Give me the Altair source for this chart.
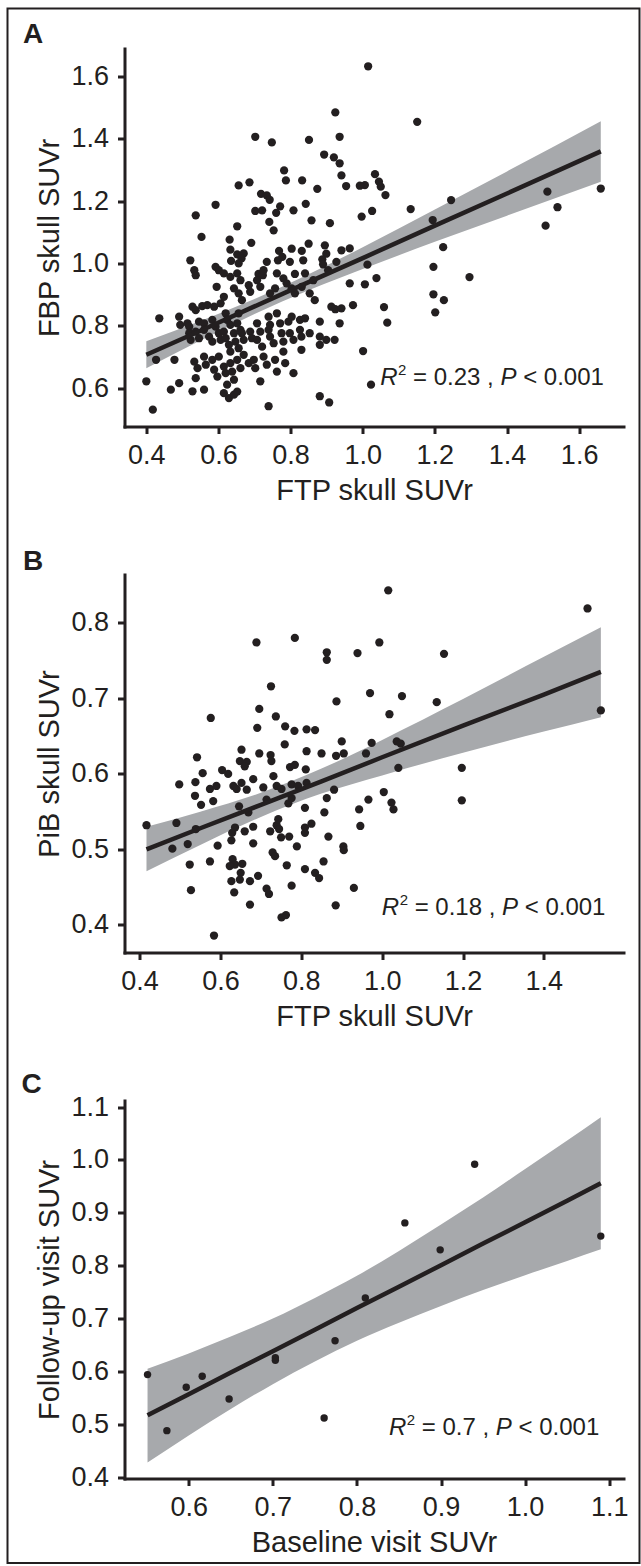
import altair as alt
import pandas as pd

INK = "#231f20"
BAND = "#a7a9ac"
FONT = "Liberation Sans"

# ---------------- Panel A : FTP vs FBP skull SUVr ----------------
a_x = [0.924, 0.702, 0.748, 0.851, 0.936, 0.893, 0.920, 0.936, 0.782, 0.787,
       0.832, 0.941, 0.954, 0.656, 0.686, 0.874, 0.718, 0.734, 0.742, 0.592,
       0.842, 0.702, 0.721, 0.771, 0.760, 0.808, 0.537, 0.858, 0.909, 0.741,
       0.753, 0.652, 0.553, 0.631, 0.691, 0.850, 0.895, 0.899, 0.768, 0.803,
       0.831, 0.633, 0.652, 0.670, 0.941, 0.964, 0.522, 0.533, 0.537, 0.592,
       0.601, 0.635, 0.664, 0.656, 0.734, 0.765, 0.777, 0.798, 0.835, 0.888,
       0.890, 0.927, 0.615, 0.633, 0.652, 0.661, 0.711, 0.723, 0.725, 0.762,
       0.780, 0.812, 0.840, 0.863, 0.904, 0.964, 0.595, 0.615, 0.643, 0.656,
       0.665, 0.684, 0.688, 0.707, 0.716, 0.743, 0.757, 0.789, 0.803, 0.812,
       0.831, 0.853, 0.867, 0.913, 0.924, 0.941, 0.973, 0.528, 0.537, 0.555,
       0.569, 0.588, 0.606, 0.436, 0.491, 0.494, 0.514, 0.519, 0.546, 0.560,
       0.583, 0.592, 0.620, 0.624, 0.633, 0.656, 0.652, 0.661, 0.707, 0.716,
       0.739, 0.743, 0.762, 0.771, 0.794, 0.803, 0.826, 0.840, 0.881, 0.936,
       0.519, 0.523, 0.537, 0.546, 0.560, 0.574, 0.583, 0.601, 0.606, 0.615,
       0.620, 0.629, 0.633, 0.643, 0.647, 0.656, 0.665, 0.670, 0.688, 0.693,
       0.707, 0.721, 0.739, 0.743, 0.753, 0.775, 0.780, 0.798, 0.808, 0.826,
       0.830, 0.853, 0.881, 0.899, 0.922, 0.881, 0.427, 0.478, 0.533, 0.542,
       0.560, 0.565, 0.583, 0.588, 0.597, 0.601, 0.615, 0.620, 0.633, 0.638,
       0.643, 0.652, 0.661, 0.670, 0.684, 0.698, 0.702, 0.725, 0.734, 0.757,
       0.762, 0.780, 0.785, 0.808, 0.830, 0.400, 0.468, 0.491, 0.528, 0.537,
       0.560, 0.615, 0.629, 0.643, 0.652, 0.624, 0.716, 0.739, 0.881, 0.907,
       0.418, 1.015, 1.151, 1.034, 1.006, 0.992, 1.045, 1.050, 1.063, 1.026,
       0.997, 1.133, 1.245, 1.194, 1.512, 1.540, 1.507, 1.660, 1.223, 1.196,
       1.013, 1.038, 1.006, 1.296, 1.196, 1.225, 1.201, 1.059, 1.068, 1.001,
       1.023]
a_y = [1.484, 1.406, 1.388, 1.396, 1.406, 1.349, 1.340, 1.321, 1.298, 1.266,
       1.266, 1.282, 1.248, 1.250, 1.260, 1.239, 1.223, 1.218, 1.204, 1.188,
       1.191, 1.168, 1.170, 1.183, 1.162, 1.170, 1.154, 1.138, 1.129, 1.133,
       1.106, 1.119, 1.085, 1.076, 1.066, 1.063, 1.058, 1.031, 1.040, 1.047,
       1.040, 1.044, 1.029, 1.032, 1.042, 1.048, 1.010, 0.978, 0.962, 0.989,
       0.978, 1.008, 1.016, 1.000, 1.005, 1.010, 1.021, 1.005, 1.010, 1.013,
       0.997, 1.005, 0.968, 0.957, 0.968, 0.946, 0.966, 0.962, 0.978, 0.968,
       0.952, 0.966, 0.968, 0.946, 0.978, 0.936, 0.925, 0.893, 0.920, 0.904,
       0.882, 0.930, 0.909, 0.946, 0.925, 0.904, 0.920, 0.936, 0.920, 0.904,
       0.925, 0.904, 0.882, 0.861, 0.853, 0.856, 0.866, 0.861, 0.850, 0.863,
       0.866, 0.861, 0.872, 0.824, 0.829, 0.803, 0.808, 0.797, 0.813, 0.808,
       0.819, 0.797, 0.840, 0.819, 0.803, 0.840, 0.808, 0.787, 0.808, 0.781,
       0.829, 0.803, 0.840, 0.808, 0.813, 0.829, 0.819, 0.824, 0.813, 0.808,
       0.776, 0.755, 0.781, 0.760, 0.787, 0.765, 0.749, 0.776, 0.755, 0.781,
       0.760, 0.739, 0.717, 0.776, 0.749, 0.728, 0.776, 0.755, 0.781, 0.760,
       0.755, 0.733, 0.787, 0.765, 0.744, 0.776, 0.749, 0.776, 0.755, 0.787,
       0.765, 0.776, 0.765, 0.755, 0.755, 0.739, 0.691, 0.691, 0.685, 0.664,
       0.701, 0.675, 0.691, 0.659, 0.637, 0.701, 0.669, 0.648, 0.680, 0.653,
       0.627, 0.691, 0.664, 0.707, 0.680, 0.691, 0.664, 0.701, 0.675, 0.691,
       0.653, 0.717, 0.680, 0.648, 0.723, 0.622, 0.595, 0.616, 0.590, 0.632,
       0.595, 0.584, 0.568, 0.579, 0.589, 0.611, 0.622, 0.542, 0.574, 0.554,
       0.531, 1.632, 1.454, 1.286, 1.251, 1.249, 1.262, 1.246, 1.219, 1.168,
       1.150, 1.174, 1.203, 1.139, 1.230, 1.180, 1.121, 1.240, 1.052, 0.989,
       0.996, 0.953, 0.933, 0.956, 0.901, 0.882, 0.843, 0.860, 0.810, 0.719,
       0.611]
a_fit_x = [0.40, 0.55, 0.70, 0.85, 1.00, 1.20, 1.40, 1.66]
a_fit_y = [0.707, 0.784, 0.862, 0.940, 1.017, 1.121, 1.224, 1.359]
a_lo = [0.664, 0.753, 0.838, 0.914, 0.982, 1.069, 1.153, 1.262]
a_hi = [0.750, 0.815, 0.886, 0.965, 1.052, 1.173, 1.295, 1.456]

# ---------------- Panel B : FTP vs PiB skull SUVr ----------------
b_x = [0.689, 0.784, 0.863, 0.863, 0.939, 0.725, 0.970, 0.887, 0.696, 0.576,
       0.737, 0.691, 0.760, 0.783, 0.813, 0.834, 0.652, 0.696, 0.724, 0.726,
       0.759, 0.813, 0.850, 0.886, 0.905, 0.900, 0.960, 0.974, 0.542, 0.648,
       0.665, 0.660, 0.604, 0.619, 0.731, 0.772, 0.784, 0.811, 0.556, 0.498,
       0.538, 0.574, 0.590, 0.632, 0.640, 0.652, 0.665, 0.681, 0.706, 0.739,
       0.751, 0.776, 0.792, 0.813, 0.537, 0.552, 0.582, 0.646, 0.669, 0.714,
       0.768, 0.776, 0.809, 0.863, 0.881, 0.857, 0.966, 0.943, 0.417, 0.491,
       0.539, 0.681, 0.660, 0.636, 0.629, 0.739, 0.745, 0.743, 0.809, 0.809,
       0.825, 0.723, 0.867, 0.946, 0.481, 0.519, 0.593, 0.627, 0.681, 0.750,
       0.770, 0.789, 0.904, 0.905, 0.729, 0.735, 0.524, 0.574, 0.630, 0.636,
       0.654, 0.623, 0.764, 0.809, 0.834, 0.844, 0.855, 0.650, 0.648, 0.627,
       0.673, 0.693, 0.714, 0.720, 0.776, 0.527, 0.634, 0.930, 0.673, 0.885,
       0.751, 0.762, 0.584, 1.015, 1.508, 0.993, 1.153, 1.049, 1.135, 1.018,
       1.541, 1.036, 1.046, 1.040, 1.197, 1.004, 1.023, 1.028, 1.197]
b_y = [0.774, 0.780, 0.761, 0.751, 0.760, 0.716, 0.707, 0.696, 0.686, 0.674,
       0.676, 0.661, 0.663, 0.657, 0.659, 0.658, 0.632, 0.627, 0.625, 0.617,
       0.639, 0.630, 0.627, 0.624, 0.627, 0.643, 0.627, 0.641, 0.622, 0.617,
       0.616, 0.610, 0.605, 0.600, 0.597, 0.609, 0.612, 0.606, 0.601, 0.586,
       0.589, 0.580, 0.584, 0.584, 0.580, 0.588, 0.579, 0.593, 0.582, 0.584,
       0.580, 0.586, 0.584, 0.588, 0.571, 0.559, 0.564, 0.557, 0.549, 0.566,
       0.561, 0.568, 0.555, 0.568, 0.579, 0.549, 0.566, 0.553, 0.532, 0.535,
       0.527, 0.530, 0.524, 0.529, 0.522, 0.532, 0.527, 0.540, 0.529, 0.522,
       0.534, 0.524, 0.517, 0.531, 0.501, 0.507, 0.505, 0.512, 0.508, 0.516,
       0.517, 0.504, 0.504, 0.499, 0.496, 0.491, 0.480, 0.484, 0.487, 0.480,
       0.481, 0.478, 0.479, 0.474, 0.469, 0.462, 0.484, 0.469, 0.460, 0.458,
       0.458, 0.465, 0.448, 0.441, 0.452, 0.446, 0.443, 0.449, 0.427, 0.426,
       0.410, 0.413, 0.386, 0.843, 0.819, 0.774, 0.759, 0.703, 0.695, 0.679,
       0.684, 0.643, 0.640, 0.608, 0.608, 0.576, 0.562, 0.553, 0.565]
b_fit_x = [0.417, 0.55, 0.70, 0.85, 1.00, 1.20, 1.40, 1.541]
b_fit_y = [0.500, 0.528, 0.559, 0.590, 0.622, 0.664, 0.705, 0.735]
b_lo = [0.471, 0.506, 0.543, 0.574, 0.598, 0.628, 0.656, 0.675]
b_hi = [0.530, 0.550, 0.575, 0.607, 0.645, 0.699, 0.755, 0.794]

# ---------------- Panel C : baseline vs follow-up ----------------
c_x = [0.551, 0.574, 0.597, 0.616, 0.648, 0.703, 0.703, 0.761, 0.774, 0.810,
       0.857, 0.899, 0.940, 1.090]
c_y = [0.594, 0.488, 0.570, 0.591, 0.548, 0.626, 0.621, 0.512, 0.658, 0.739,
       0.881, 0.830, 0.992, 0.856]
c_fit_x = [0.551, 0.60, 0.65, 0.70, 0.75, 0.80, 0.85, 0.90, 0.95, 1.00, 1.05, 1.090]
c_fit_y = [0.517, 0.557, 0.598, 0.638, 0.679, 0.720, 0.760, 0.801, 0.842, 0.882, 0.923, 0.956]
c_lo = [0.428, 0.479, 0.529, 0.576, 0.619, 0.658, 0.692, 0.724, 0.754, 0.782, 0.809, 0.831]
c_hi = [0.605, 0.634, 0.666, 0.700, 0.739, 0.781, 0.828, 0.878, 0.929, 0.983, 1.037, 1.081]

W, H = 499, 378

CW = {".": 0.278, " ": 0.278, ",": 0.278, "=": 0.584, "<": 0.584}


def tw(s, fs):
    return sum(CW.get(c, 0.556) for c in s) * fs


def annotation(x0, y0, r2):
    fs, sup = 24, 15
    sp = tw(" ", fs)
    parts = []
    x = x0
    parts.append(("R", x, y0, fs, "italic"))
    x += 0.722 * fs + 0.5
    parts.append(("2", x, y0 - 10, sup, "normal"))
    x += tw("2", sup) + sp
    s = f"= {r2} ,"
    parts.append((s, x, y0, fs, "normal"))
    x += tw(s, fs) + sp
    parts.append(("P", x, y0, fs, "italic"))
    x += 0.667 * fs + sp
    parts.append(("< 0.001", x, y0, fs, "normal"))
    out = []
    for t, px, py, f, st in parts:
        out.append(
            alt.Chart(pd.DataFrame({"t": [t]}))
            .mark_text(align="left", baseline="alphabetic", font=FONT,
                       fontSize=f, fontStyle=st, color=INK)
            .encode(text="t:N", x=alt.value(px), y=alt.value(py))
        )
    return out


def panel(px, py, fx, fy, lo, hi, xdom, ydom, xt, yt, xtitle, ytitle,
          letter, lpos, r2, apos, dot=68, extra=None):
    pts = pd.DataFrame({"x": px, "y": py})
    fit = pd.DataFrame({"x": fx, "y": fy, "lo": lo, "hi": hi})
    xs = alt.Scale(domain=xdom, nice=False, zero=False)
    ys = alt.Scale(domain=ydom, nice=False, zero=False)
    ax = alt.Axis(values=xt, format=".1f", title=xtitle)
    ay = alt.Axis(values=yt, format=".1f", title=ytitle)
    band = alt.Chart(fit).mark_area(color=BAND, opacity=1, interpolate="monotone").encode(
        x=alt.X("x:Q", scale=xs, axis=ax),
        y=alt.Y("lo:Q", scale=ys, axis=ay),
        y2="hi:Q",
    )
    dots = alt.Chart(pts).mark_circle(size=dot, color=INK, opacity=1).encode(
        x=alt.X("x:Q", scale=xs, axis=ax),
        y=alt.Y("y:Q", scale=ys, axis=ay),
    )
    line = alt.Chart(fit).mark_line(color=INK, strokeWidth=4.5).encode(
        x=alt.X("x:Q", scale=xs, axis=ax),
        y=alt.Y("y:Q", scale=ys, axis=ay),
    )
    lab = alt.Chart(pd.DataFrame({"t": [letter]})).mark_text(
        align="left", baseline="alphabetic", font=FONT, fontSize=28,
        fontWeight="bold", color=INK
    ).encode(text="t:N", x=alt.value(lpos[0]), y=alt.value(lpos[1]))
    layers = [band, dots, line, lab] + annotation(apos[0], apos[1], r2)
    if extra is not None:
        layers.append(extra)
    return alt.layer(*layers).properties(width=W, height=H)


# outer frame of the figure
frame = alt.Chart(pd.DataFrame({"k": [0]})).mark_rect(
    fill="white", fillOpacity=0, stroke=INK, strokeWidth=2
).encode(x=alt.value(-117), x2=alt.value(515), y=alt.value(-40), y2=alt.value(1514.5))

pA = panel(a_x, a_y, a_fit_x, a_fit_y, a_lo, a_hi,
           [0.3395, 1.723], [0.477, 1.689],
           [0.4, 0.6, 0.8, 1.0, 1.2, 1.4, 1.6], [0.6, 0.8, 1.0, 1.2, 1.4, 1.6],
           "FTP skull SUVr", "FBP skull SUVr", "A", (-101.5, -5.2),
           "0.23", (255.7, 336.5), extra=frame)
pB = panel(b_x, b_y, b_fit_x, b_fit_y, b_lo, b_hi,
           [0.3626, 1.597], [0.3635, 0.864],
           [0.4, 0.6, 0.8, 1.0, 1.2, 1.4], [0.4, 0.5, 0.6, 0.7, 0.8],
           "FTP skull SUVr", "PiB skull SUVr", "B", (-101.5, -5),
           "0.18", (257.3, 340))
pC = panel(c_x, c_y, c_fit_x, c_fit_y, c_lo, c_hi,
           [0.5236, 1.117], [0.3975, 1.1125],
           [0.6, 0.7, 0.8, 0.9, 1.0, 1.1], [0.4, 0.5, 0.6, 0.7, 0.8, 0.9, 1.0, 1.1],
           "Baseline visit SUVr", "Follow-up visit SUVr", "C", (-103, -8),
           "0.7", (264.4, 334), dot=55)

chart = (
    alt.vconcat(pA, pB, pC, spacing=148, bounds="flush")
    .properties(padding={"left": 6.5, "top": 7.5, "right": 0, "bottom": 0},
                background="white")
    .configure_view(stroke=None)
    .configure_axis(
        grid=False,
        domainColor=INK, domainWidth=3, domainCap="square",
        tickColor=INK, tickWidth=3, tickSize=7,
        labelFont=FONT, labelFontSize=27, labelColor=INK,
        labelFlush=False, labelOverlap=False, labelPadding=9,
        titleFont=FONT, titleFontSize=29, titleColor=INK,
        titleFontWeight="normal",
    )
    .configure_axisX(titlePadding=8)
    .configure_axisY(titlePadding=6)
)

chart.save("out.html", embed_options={"renderer": "svg", "actions": False})
